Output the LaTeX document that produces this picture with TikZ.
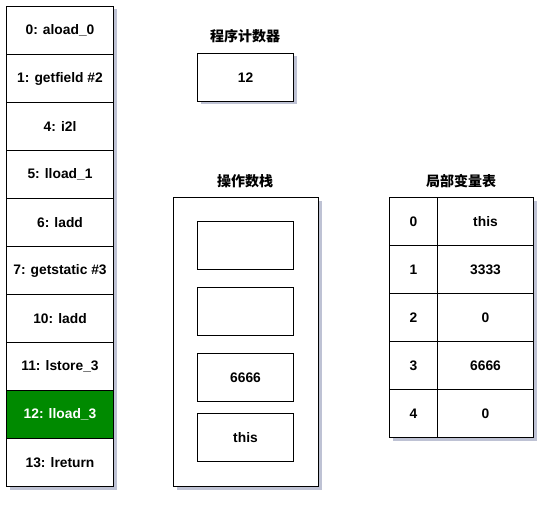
\documentclass[tikz,border=0pt]{standalone}
\usepackage{fontspec}
\setmainfont{Liberation Sans}
\newfontfamily\cjk{Noto Sans CJK SC}
\usetikzlibrary{shadows}
\definecolor{dgreen}{HTML}{008A00}
\definecolor{shad}{HTML}{8890B0}
\tikzset{
  cell/.style={draw=black, line width=1pt, fill=white, inner sep=0pt, font=\bfseries\fontsize{13.8}{16}\selectfont, anchor=north west},
  shd/.style={drop shadow={shadow xshift=3pt, shadow yshift=-3pt, opacity=0.55, fill=shad}},
  ttl/.style={font=\cjk\bfseries\fontsize{14}{16}\selectfont, inner sep=0pt},
}
\begin{document}
\begin{tikzpicture}[x=1pt,y=-1pt]
\useasboundingbox (0,0) rectangle (553,505);
% shadows for groups
\node[cell, shd, minimum width=107pt, minimum height=480pt] (colbg) at (6,6) {};
% instruction column
\node[cell, minimum width=107pt, minimum height=48pt] (i0) at (6,6) {0: aload\_0};
\node[cell, minimum width=107pt, minimum height=48pt] (i1) at (6,54) {1: getfield \#2};
\node[cell, minimum width=107pt, minimum height=48pt] (i2) at (6,102) {4: i2l};
\node[cell, minimum width=107pt, minimum height=48pt] (i3) at (6,150) {5: lload\_1};
\node[cell, minimum width=107pt, minimum height=48pt] (i4) at (6,198) {6: ladd};
\node[cell, minimum width=107pt, minimum height=48pt] (i5) at (6,246) {7: getstatic \#3};
\node[cell, minimum width=107pt, minimum height=48pt] (i6) at (6,294) {10: ladd};
\node[cell, minimum width=107pt, minimum height=48pt] (i7) at (6,342) {11: lstore\_3};
\node[cell, fill=dgreen, text=white, minimum width=107pt, minimum height=48pt] (i8) at (6,390) {12: lload\_3};
\node[cell, minimum width=107pt, minimum height=48pt] (i9) at (6,438) {13: lreturn};
% program counter
\node[ttl] (pct) at (245,36) {程序计数器};
\node[cell, shd, minimum width=96pt, minimum height=48pt] (pc) at (197,53) {12};
% operand stack
\node[ttl] (ost) at (245,181) {操作数栈};
\node[cell, shd, minimum width=145pt, minimum height=289pt] (os) at (173,197) {};
\node[cell, minimum width=96pt, minimum height=48pt] (s0) at (197,221) {};
\node[cell, minimum width=96pt, minimum height=48pt] (s1) at (197,287) {};
\node[cell, minimum width=96pt, minimum height=48pt] (s2) at (197,353) {6666};
\node[cell, minimum width=96pt, minimum height=48pt] (s3) at (197,413) {this};
% local variable table
\node[ttl] (lvt) at (461,181) {局部变量表};
\node[cell, shd, minimum width=144pt, minimum height=240pt] (lvbg) at (389,197) {};
\node[cell, minimum width=48pt, minimum height=48pt] (k0) at (389,197) {0};
\node[cell, minimum width=96pt, minimum height=48pt] (v0) at (437,197) {this};
\node[cell, minimum width=48pt, minimum height=48pt] (k1) at (389,245) {1};
\node[cell, minimum width=96pt, minimum height=48pt] (v1) at (437,245) {3333};
\node[cell, minimum width=48pt, minimum height=48pt] (k2) at (389,293) {2};
\node[cell, minimum width=96pt, minimum height=48pt] (v2) at (437,293) {0};
\node[cell, minimum width=48pt, minimum height=48pt] (k3) at (389,341) {3};
\node[cell, minimum width=96pt, minimum height=48pt] (v3) at (437,341) {6666};
\node[cell, minimum width=48pt, minimum height=48pt] (k4) at (389,389) {4};
\node[cell, minimum width=96pt, minimum height=48pt] (v4) at (437,389) {0};
\end{tikzpicture}
\end{document}
